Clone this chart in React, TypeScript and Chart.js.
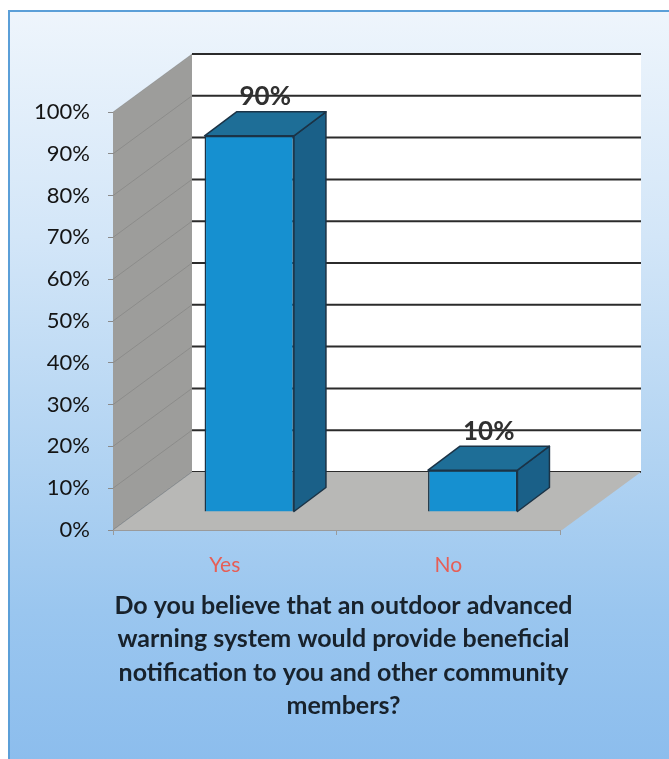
import React, { useEffect, useRef } from "react";
import { Chart, registerables } from "chart.js";

Chart.register(...registerables);

const CATEGORIES = ["Yes", "No"];
const VALUES = [90, 10];
const Y_MAX = 100;
const Y_STEP = 10;
const TITLE_LINES = [
  "Do you believe that an outdoor advanced",
  "warning system would provide beneficial",
  "notification to you and other community",
  "members?",
];

const DEPTH = { dx: 79, dy: -58 };
const BAR_POS = 0.31;
const BAR_DEPTH = { dx: 32, dy: -24 };

const CANVAS_W = 659;
const CANVAS_H = 747;

const threeD = {
  id: "threeD",
  beforeDraw(chart: any) {
    const { ctx, chartArea: a, scales } = chart;
    const y = scales.y;
    const { dx, dy } = DEPTH;
    ctx.save();
    // back wall
    ctx.fillStyle = "#ffffff";
    ctx.fillRect(a.left + dx, a.top + dy, a.right - a.left + 2, a.bottom - a.top);
    // side wall
    ctx.fillStyle = "#9d9d9b";
    ctx.beginPath();
    ctx.moveTo(a.left, a.bottom);
    ctx.lineTo(a.left, a.top);
    ctx.lineTo(a.left + dx, a.top + dy);
    ctx.lineTo(a.left + dx, a.bottom + dy);
    ctx.closePath();
    ctx.fill();
    // gridlines
    for (let v = 0; v <= Y_MAX; v += Y_STEP) {
      const py = y.getPixelForValue(v);
      ctx.strokeStyle = "#2b2b2b";
      ctx.lineWidth = 2;
      ctx.beginPath();
      ctx.moveTo(a.left + dx, py + dy);
      ctx.lineTo(a.right + dx + 2, py + dy);
      ctx.stroke();
      ctx.strokeStyle = "rgba(60,60,60,0.18)";
      ctx.lineWidth = 1;
      ctx.beginPath();
      ctx.moveTo(a.left, py);
      ctx.lineTo(a.left + dx, py + dy);
      ctx.stroke();
    }
    // floor
    ctx.fillStyle = "#b8b8b6";
    ctx.beginPath();
    ctx.moveTo(a.left, a.bottom);
    ctx.lineTo(a.right + 2, a.bottom);
    ctx.lineTo(a.right + dx + 2, a.bottom + dy);
    ctx.lineTo(a.left + dx, a.bottom + dy);
    ctx.closePath();
    ctx.fill();
    ctx.strokeStyle = "rgba(90,90,90,0.35)";
    ctx.lineWidth = 1;
    ctx.beginPath();
    ctx.moveTo(a.left, a.bottom);
    ctx.lineTo(a.left + dx, a.bottom + dy);
    ctx.stroke();
    ctx.restore();
  },
  beforeDatasetsDraw(chart: any) {
    chart.ctx.save();
    chart.ctx.translate(DEPTH.dx * BAR_POS, DEPTH.dy * BAR_POS);
  },
  afterDatasetsDraw(chart: any) {
    const { ctx } = chart;
    const meta = chart.getDatasetMeta(0);
    const { dx, dy } = BAR_DEPTH;
    meta.data.forEach((el: any, i: number) => {
      const { x, y, base, width } = el.getProps(["x", "y", "base", "width"], true);
      const l = x - width / 2;
      const r = x + width / 2;
      ctx.lineJoin = "round";
      ctx.lineWidth = 1.5;
      ctx.strokeStyle = "#1b3346";
      // side
      ctx.fillStyle = "#1a6088";
      ctx.beginPath();
      ctx.moveTo(r, y);
      ctx.lineTo(r + dx, y + dy);
      ctx.lineTo(r + dx, base + dy);
      ctx.lineTo(r, base);
      ctx.closePath();
      ctx.fill();
      ctx.stroke();
      // top
      ctx.fillStyle = "#1e6e97";
      ctx.beginPath();
      ctx.moveTo(l, y);
      ctx.lineTo(l + dx, y + dy);
      ctx.lineTo(r + dx, y + dy);
      ctx.lineTo(r, y);
      ctx.closePath();
      ctx.fill();
      ctx.stroke();
      // value label
      ctx.fillStyle = "#303030";
      ctx.font = "bold 26px Lato";
      ctx.textAlign = "center";
      ctx.textBaseline = "middle";
      ctx.fillText(`${VALUES[i]}%`, x + dx / 2, y + dy - 15);
    });
    ctx.restore();
  },
  afterDraw(chart: any) {
    const { ctx, chartArea: a } = chart;
    ctx.save();
    ctx.fillStyle = "#18222c";
    ctx.font = "bold 25px Lato";
    ctx.textAlign = "center";
    ctx.textBaseline = "middle";
    const cx = (a.left + a.right) / 2 + 7;
    TITLE_LINES.forEach((line, i) => {
      ctx.fillText(line, cx, a.bottom + 76 + i * 33.3);
    });
    ctx.restore();
  },
};

export default function App() {
  const ref = useRef<HTMLCanvasElement>(null);
  useEffect(() => {
    if (!ref.current) return;
    const chart = new Chart(ref.current, {
      type: "bar",
      data: {
        labels: CATEGORIES,
        datasets: [
          {
            data: VALUES,
            backgroundColor: "#1690d0",
            borderColor: "#1b3346",
            borderWidth: 1.5,
            barPercentage: 0.4,
            categoryPercentage: 1.0,
            clip: false as any,
          },
        ],
      },
      options: {
        responsive: false,
        maintainAspectRatio: false,
        animation: false,
        layout: { padding: { left: 0, top: 100, right: CANVAS_W - 550, bottom: 0 } },
        plugins: {
          legend: { display: false },
          tooltip: { enabled: false },
          title: { display: false },
        },
        scales: {
          x: {
            afterFit: (s: any) => {
              s.height = CANVAS_H - 518;
            },
            grid: {
              offset: true,
              drawOnChartArea: false,
              drawTicks: true,
              tickLength: 5,
              color: "#9a9a9a",
            },
            border: { display: true, color: "#9a9a9a", width: 1 },
            ticks: {
              color: "#e65e56",
              font: { family: "Lato", size: 21 },
              padding: 18,
            },
          },
          y: {
            min: 0,
            max: Y_MAX,
            afterFit: (s: any) => {
              s.width = 103;
            },
            grid: {
              drawOnChartArea: false,
              drawTicks: true,
              tickLength: 5,
              color: "#8a8a8a",
            },
            border: { display: false },
            ticks: {
              stepSize: Y_STEP,
              color: "#141414",
              font: { family: "Lato", size: 22 },
              padding: 18,
              callback: (v: any) => `${v}%`,
            },
          },
        },
      },
      plugins: [threeD],
    });
    return () => chart.destroy();
  }, []);

  return (
    <div
      style={{
        position: "fixed",
        left: 8,
        top: 10,
        width: 661,
        height: 749,
        borderLeft: "2px solid #5b9fd8",
        borderTop: "2px solid #5b9fd8",
        background:
          "linear-gradient(to bottom, #eef5fc 0%, #d3e6f8 30%, #b1d3f2 60%, #9ac6ef 80%, #8cbded 100%)",
        overflow: "hidden",
      }}
    >
      <canvas
        ref={ref}
        width={CANVAS_W}
        height={CANVAS_H}
        style={{ position: "absolute", left: 0, top: 0, width: CANVAS_W, height: CANVAS_H }}
      />
    </div>
  );
}
